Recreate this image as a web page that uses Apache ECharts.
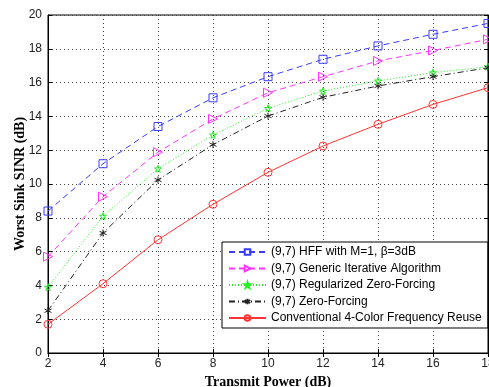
<!DOCTYPE html>
<html>
<head>
<meta charset="utf-8">
<script src="https://cdn.jsdelivr.net/npm/echarts@6/dist/echarts.min.js"></script>
<style>
  html, body { margin: 0; padding: 0; background: #fff; }
  #chart { width: 489px; height: 387px; }
</style>
</head>
<body>
<div id="chart"></div>
<script>
// transmit power (dB)
const power = [2, 4, 6, 8, 10, 12, 14, 16, 18];

const hff = [8.4, 11.2, 13.4, 15.1, 16.35, 17.38, 18.17, 18.86, 19.5];
const generic = [5.7, 9.25, 11.88, 13.85, 15.4, 16.35, 17.28, 17.9, 18.56];
const rzf = [3.9, 8.1, 10.9, 12.9, 14.48, 15.5, 16.1, 16.59, 16.94];
const zf = [2.5, 7.1, 10.24, 12.33, 14.02, 15.13, 15.8, 16.35, 16.88];
const conventional = [1.7, 4.1, 6.7, 8.8, 10.69, 12.25, 13.53, 14.71, 15.7];

const names = [
  '(9,7) HFF with M=1, \u03b2=3dB',
  '(9,7) Generic Iterative Algorithm',
  '(9,7) Regularized Zero-Forcing',
  '(9,7) Zero-Forcing',
  'Conventional 4-Color Frequency Reuse'
];

const starPath = 'path://M0,-10L2.25,-3.09L9.51,-3.09L3.63,1.18L5.88,8.09L0,3.82L-5.88,8.09L-3.63,1.18L-9.51,-3.09L-2.25,-3.09Z';
const asteriskPath = 'path://M0,-10L0,10M-8.66,-5L8.66,5M-8.66,5L8.66,-5';

const pairs = ys => power.map((x, i) => [x, ys[i]]);

function lineSeries(name, ys, color, dash, symbol, size, rotate) {
  return {
    name,
    type: 'line',
    data: pairs(ys),
    symbol,
    symbolSize: size,
    symbolRotate: rotate || 0,
    showAllSymbol: true,
    lineStyle: { color, width: 1, type: dash },
    itemStyle: { color: 'rgba(255,255,255,0)', borderColor: color, borderWidth: 1 },
    emphasis: { disabled: true },
    animation: false
  };
}

const chart = echarts.init(document.getElementById('chart'));

const tickFont = { color: '#222', fontFamily: 'Liberation Sans', fontSize: 12 };
const titleFont = { color: '#000', fontFamily: 'Liberation Serif', fontSize: 14, fontWeight: 'bold' };
const gridLine = { show: true, lineStyle: { color: '#444', type: [1, 3], width: 1 } };

chart.setOption({
  backgroundColor: '#fff',
  grid: {
    left: 48, right: 1, top: 15, bottom: 34,
    outerBoundsMode: 'none',
    containLabel: false,
    show: true, borderColor: '#000', borderWidth: 1
  },
  legend: {
    orient: 'vertical',
    left: 222,
    top: 242,
    padding: [3, 6, 3, 6],
    itemWidth: 37,
    itemHeight: 7,
    itemGap: 2.5,
    backgroundColor: '#fff',
    borderColor: '#000',
    borderWidth: 1,
    borderRadius: 0,
    textStyle: { color: '#000', fontFamily: 'Liberation Sans', fontSize: 12, lineHeight: 14 },
    data: names
  },
  xAxis: [
    {
      type: 'value',
      min: 2, max: 18, interval: 2,
      name: 'Transmit Power (dB)',
      nameLocation: 'middle',
      nameGap: 22,
      nameMoveOverlap: false,
      nameTextStyle: titleFont,
      axisLine: { lineStyle: { color: '#000' } },
      axisTick: { inside: true, length: 4, lineStyle: { color: '#000' } },
      axisLabel: Object.assign({ margin: 5 }, tickFont),
      splitLine: gridLine
    },
    {
      type: 'value', position: 'top',
      min: 2, max: 18, interval: 2,
      axisLine: { lineStyle: { color: '#000' } },
      axisTick: { inside: true, length: 4, lineStyle: { color: '#000' } },
      axisLabel: { show: false },
      splitLine: { show: false }
    }
  ],
  yAxis: [
    {
      type: 'value',
      min: 0, max: 20, interval: 2,
      name: 'Worst Sink SINR (dB)',
      nameLocation: 'middle',
      nameGap: 21,
      nameMoveOverlap: false,
      nameTextStyle: titleFont,
      axisLine: { show: true, lineStyle: { color: '#000' } },
      axisTick: { show: true, inside: true, length: 4, lineStyle: { color: '#000' } },
      axisLabel: Object.assign({ margin: 6 }, tickFont),
      splitLine: gridLine
    },
    {
      type: 'value', position: 'right',
      min: 0, max: 20, interval: 2,
      axisLine: { show: true, lineStyle: { color: '#000' } },
      axisTick: { show: true, inside: true, length: 4, lineStyle: { color: '#000' } },
      axisLabel: { show: false },
      splitLine: { show: false }
    }
  ],
  series: [
    lineSeries(names[0], hff, '#3a3aff', [6, 4], 'rect', 8),
    lineSeries(names[1], generic, '#ff33ff', [6, 4], 'triangle', 9, -90),
    lineSeries(names[2], rzf, '#22ee22', [1, 2], starPath, 7),
    lineSeries(names[3], zf, '#222222', [6, 3, 1, 3], asteriskPath, 7),
    lineSeries(names[4], conventional, '#ff3333', 'solid', 'circle', 8)
  ]
});
</script>
</body>
</html>
